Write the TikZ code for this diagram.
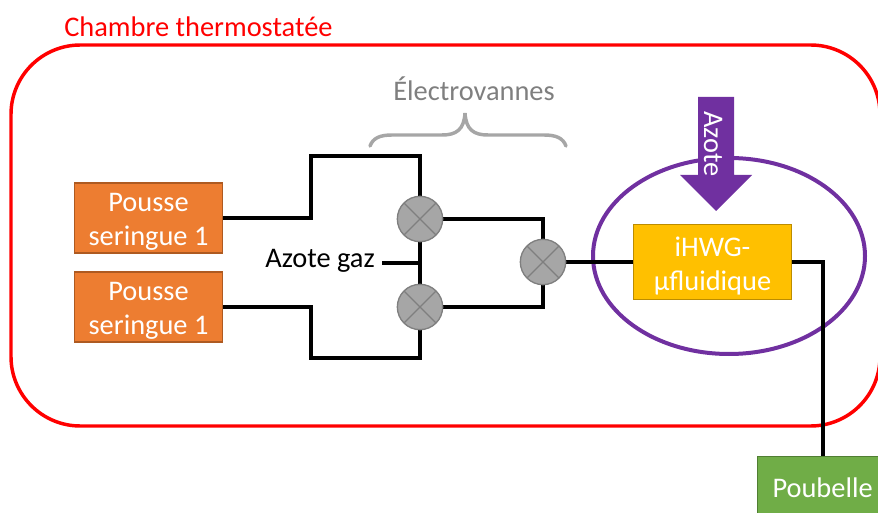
\documentclass[tikz,border=0pt]{standalone}
\usepackage{fontspec}
\setmainfont{Carlito}
\definecolor{orangeb}{HTML}{ED7D31}
\definecolor{orangeln}{HTML}{AE5A21}
\definecolor{goldb}{HTML}{FFC000}
\definecolor{goldln}{HTML}{BC8C00}
\definecolor{greenb}{HTML}{70AD47}
\definecolor{greenln}{HTML}{507E32}
\definecolor{purp}{HTML}{7030A0}
\definecolor{valvef}{HTML}{A6A6A6}
\definecolor{valvel}{HTML}{7F7F7F}
\definecolor{bracec}{HTML}{A6A6A6}
\definecolor{graytxt}{HTML}{7F7F7F}
\newcommand\boxtxt[1]{\parbox{110pt}{\vspace*{6pt}\centering #1}}
\tikzset{
  wire/.style={draw=black,line width=2.6pt,line join=miter},
  boxbase/.style={rectangle,minimum height=0pt,text=white,font=\fontsize{21.3}{25.5}\selectfont,align=center,inner sep=0pt,line width=0.9pt},
  pousse/.style={boxbase,fill=orangeb,draw=orangeln,minimum width=111.5pt,minimum height=52.5pt},
  chip/.style={boxbase,fill=goldb,draw=goldln,minimum width=119pt,minimum height=56pt},
  bin/.style={boxbase,fill=greenb,draw=greenln,minimum width=97.5pt,minimum height=46.5pt},
  valve/.style={circle,draw=valvel,fill=valvef,line width=1pt,minimum size=34pt,inner sep=0pt,path picture={
    \draw[valvel,line width=1pt] (path picture bounding box.north west)++(5pt,-5pt) -- ([shift={(-5pt,5pt)}]path picture bounding box.south east);
    \draw[valvel,line width=1pt] ([shift={(-5pt,-5pt)}]path picture bounding box.north east) -- ([shift={(5pt,5pt)}]path picture bounding box.south west);
  }},
  lab/.style={inner sep=0pt,font=\fontsize{21.3}{25}\selectfont}
}
\begin{document}
\begin{tikzpicture}[x=0.75pt,y=-0.75pt]
\useasboundingbox (0,0) rectangle (878,513);
\clip (0,0) rectangle (878,513);
% chamber
\draw[red,line width=2.6pt,rounded corners=52pt] (11,45) rectangle (880,426);
\node[lab,red,anchor=base west] (chamber) at (64,36.5) {Chambre thermostatée};
% ellipse
\draw[purp,line width=3pt] (729,256) ellipse (136 and 98);
% wires
\coordinate (v1c) at (420,219);
\coordinate (v2c) at (420,307);
\coordinate (v3c) at (543,262);
\coordinate (gazin) at (382,263);
\coordinate (gazout) at (420,263);
\coordinate (chipc) at (712.5,262);
\coordinate (binnw) at (757,456);
\coordinate (p1c) at (148.5,218);
\coordinate (p2c) at (148.5,307);
\draw[wire] (p1c) -- (311,218) -- (311,156) -- (420,156) -- (v1c);
\draw[wire] (p2c) -- (311,307) -- (311,358) -- (420,358) -- (v2c);
\draw[wire] (v1c) -- (543,219) -- (v3c);
\draw[wire] (v2c) -- (543,307) -- (v3c);
\draw[wire] (v1c) -- (v2c);
\draw[wire] (gazin) -- (gazout);
\draw[wire] (v3c) -- (chipc);
\draw[wire] (chipc) -- (823,262) -- (823,470);
% nodes
\node[pousse] (p1) at (p1c) {\boxtxt{Pousse\\seringue 1}};
\node[pousse] (p2) at (p2c) {\boxtxt{Pousse\\seringue 1}};
\node[chip] (chipn) at (chipc) {\boxtxt{iHWG-\\µfluidique}};
\node[bin,anchor=north west] (binn) at (binnw) {Poubelle};
\node[valve] (v1) at (v1c) {};
\node[valve] (v2) at (v2c) {};
\node[valve] (v3) at (v3c) {};
\node[lab,anchor=base east] (gaz) at (375,268) {Azote gaz};
% arrow
\fill[purp] (698,97) -- (734,97) -- (734,175) -- (752,175) -- (716,211) -- (680,175) -- (698,175) -- cycle;
\node[lab,white,rotate=-90] (az) at (713,144) {Azote};
% brace
\draw[bracec,line width=2.6pt,line cap=round] (370,146) .. controls (373,138) and (380,135) .. (392,135) -- (442,135) .. controls (456,135) and (464,130) .. (465,113) .. controls (466,130) and (474,135) .. (488,135) -- (544,135) .. controls (556,135) and (563,138) .. (566,146);
\node[lab,graytxt,anchor=base] (ev) at (474,100.5) {Électrovannes};
\end{tikzpicture}
\end{document}
